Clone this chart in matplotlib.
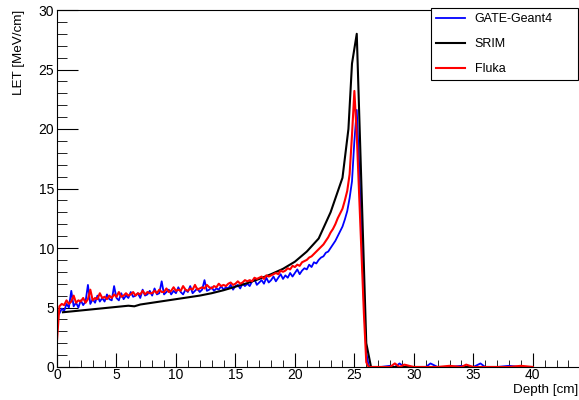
import numpy as np
import matplotlib
matplotlib.use('Agg')
import matplotlib.pyplot as plt
from matplotlib.ticker import MultipleLocator

plt.rcParams['font.family'] = ['Liberation Sans', 'DejaVu Sans']

# depth grid of the Monte Carlo curves (cm)
depth = np.round(np.arange(0.0, 26.5, 0.2), 1)

# GATE-Geant4 LET (MeV/cm)
gate = [np.nan, 4.5, 4.9, 4.7, 5.3, 5.0, 6.4, 5.1, 5.4, 5.0,
        5.6, 5.2, 5.5, 6.9, 5.3, 5.7, 5.4, 6.0, 5.5, 5.8,
        5.5, 6.1, 5.7, 5.6, 6.8, 5.8, 5.6, 6.2, 5.7, 6.0,
        5.8, 6.3, 5.9, 6.0, 6.2, 5.8, 6.5, 6.0, 6.1, 6.4,
        6.0, 6.6, 6.1, 6.2, 7.2, 6.1, 6.3, 6.5, 6.1, 6.4,
        6.2, 6.7, 6.3, 6.1, 6.5, 6.3, 6.8, 6.2, 6.4, 6.6,
        6.3, 6.5, 7.3, 6.4, 6.5, 6.7, 6.4, 6.6, 6.5, 6.8,
        6.5, 6.7, 6.6, 6.9, 6.5, 6.8, 6.9, 6.6, 7.0, 6.8,
        7.0, 6.8, 7.2, 7.4, 6.9, 7.1, 7.3, 7.0, 7.5, 7.1,
        7.3, 7.6, 7.2, 7.5, 7.8, 7.4, 7.7, 7.5, 7.9, 7.6,
        7.9, 8.2, 7.8, 8.1, 8.3, 8.2, 8.6, 8.4, 8.8, 8.7,
        9.0, 9.2, 9.3, 9.6, 9.7, 10.0, 10.3, 10.6, 11.0, 11.4,
        11.8, 12.4, 13.1, 14.2, 15.6, 19.0, 21.6, 17.0, 11.0, 5.5,
        1.2, 0.1, 0.0]

# Fluka LET (MeV/cm)
fluka = [2.2, 5.1, 5.3, 5.2, 5.6, 5.3, 5.5, 6.0, 5.4, 5.6,
         5.5, 5.8, 5.4, 5.7, 6.5, 5.6, 5.8, 5.7, 6.2, 5.8,
         5.9, 5.7, 6.0, 5.8, 6.1, 5.9, 6.3, 5.9, 6.0, 6.2,
         6.0, 6.1, 6.3, 6.0, 6.2, 6.1, 6.4, 6.1, 6.3, 6.2,
         6.2, 6.4, 6.2, 6.5, 6.3, 6.3, 6.6, 6.3, 6.4, 6.7,
         6.4, 6.5, 6.4, 6.8, 6.5, 6.4, 6.6, 6.5, 6.9, 6.5,
         6.6, 6.7, 6.6, 6.9, 6.7, 6.6, 6.8, 6.7, 7.0, 6.8,
         6.9, 6.8, 7.0, 7.1, 6.9, 7.0, 7.2, 7.0, 7.1, 7.3,
         7.2, 7.3, 7.2, 7.5, 7.4, 7.5, 7.6, 7.4, 7.7, 7.6,
         7.7, 7.8, 7.9, 7.8, 8.1, 8.0, 8.1, 8.3, 8.2, 8.5,
         8.4, 8.6, 8.5, 8.8, 8.9, 9.0, 9.2, 9.3, 9.5, 9.7,
         9.9, 10.1, 10.3, 10.6, 10.9, 11.3, 11.6, 12.0, 12.5, 12.9,
         13.3, 14.0, 14.8, 16.2, 19.5, 23.2, 19.5, 14.5, 9.5, 4.5,
         0.4, 0.0, 0.0]

# beyond the Bragg peak (cm)
tail_depth = [26.6, 27.2, 28.0, 28.4, 28.8, 29.2, 30.0, 31.0, 31.4, 32.0,
              33.0, 34.0, 34.4, 35.0, 35.6, 36.0, 37.0, 38.0, 39.0, 40.0]
gate_tail = [0.0, 0.0, 0.1, 0.0, 0.3, 0.0, 0.0, 0.0, 0.3, 0.0,
             0.0, 0.1, 0.0, 0.0, 0.3, 0.0, 0.0, 0.1, 0.0, 0.0]
fluka_tail = [0.0, 0.0, 0.0, 0.3, 0.0, 0.2, 0.0, 0.0, 0.0, 0.0,
              0.1, 0.0, 0.2, 0.0, 0.0, 0.0, 0.0, 0.0, 0.1, 0.0]

# SRIM LET (MeV/cm)
srim_depth = [0.5, 1, 2, 3, 4, 5, 6, 6.5, 7, 8, 9, 10, 11, 12, 13, 14, 15, 16, 17,
              18, 19, 20, 21, 22, 23, 24, 24.5, 24.8, 25.2, 25.6, 26.0, 26.4, 40.0]
srim = [4.6, 4.65, 4.75, 4.85, 4.95, 5.05, 5.15, 5.1, 5.25, 5.4, 5.55, 5.7, 5.85,
        6.0, 6.2, 6.45, 6.75, 7.05, 7.4, 7.8, 8.25, 8.85, 9.7, 10.8, 13.0, 15.9,
        20.0, 25.5, 28.0, 15.0, 2.0, 0.0, 0.0]

fig = plt.figure(figsize=(5.79, 4.0), dpi=100)
ax = fig.add_axes([57/579, 33/400, 521/579, 357/400])

ax.plot(list(depth) + tail_depth, gate + gate_tail, color='#0000ff', lw=1.3, label='GATE-Geant4')
ax.plot(srim_depth, srim, color='black', lw=1.5, label='SRIM')
ax.plot(list(depth) + tail_depth, fluka + fluka_tail, color='#ff0000', lw=1.5, label='Fluka')

ax.set_xlim(0, 43.8)
ax.set_ylim(0, 30)
ax.xaxis.set_major_locator(MultipleLocator(5))
ax.xaxis.set_minor_locator(MultipleLocator(1))
ax.yaxis.set_major_locator(MultipleLocator(5))
ax.yaxis.set_minor_locator(MultipleLocator(1))
ax.tick_params(which='both', direction='in', top=False, right=False, labelsize=10)
ax.tick_params(axis='x', which='both', pad=1)
ax.tick_params(axis='y', which='both', pad=2)
ax.tick_params(axis='y', which='major', length=15)
ax.tick_params(axis='y', which='minor', length=7)
ax.tick_params(axis='x', which='major', length=10)
ax.tick_params(axis='x', which='minor', length=5)
ax.spines['right'].set_visible(False)

fig.text(19/579, 1 - 10/400, 'LET [MeV/cm]', rotation=90, ha='center', va='top', fontsize=9.7)
fig.text(578/579, 1 - 390/400, 'Depth [cm]', ha='right', va='center', fontsize=9.7)

leg = fig.legend(loc='upper left', bbox_to_anchor=(431/579, 1 - 77/400, 147/579, 69/400),
                 mode='expand', borderaxespad=0, fontsize=9, handlelength=2.3,
                 labelspacing=1.05, fancybox=False, framealpha=1, edgecolor='black')
leg.get_frame().set_linewidth(0.8)

fig.savefig('out.png', dpi=100)
